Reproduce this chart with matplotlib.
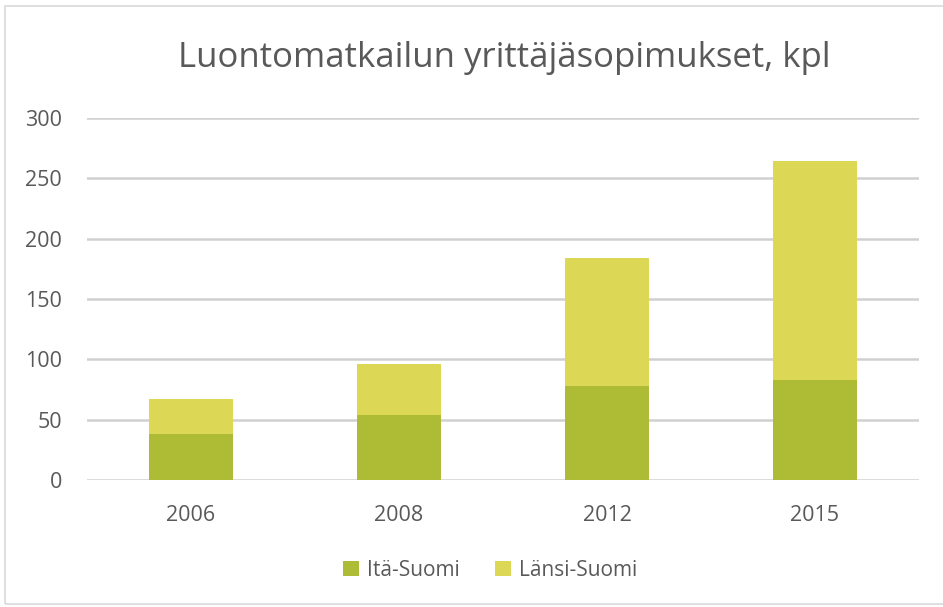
import matplotlib.pyplot as plt
from matplotlib.patches import Rectangle

vuodet = ['2006', '2008', '2012', '2015']
ita = [38, 54, 78, 83]
lansi = [29, 42, 106, 181]

plt.rcParams['font.family'] = ['Open Sans', 'DejaVu Sans']
teksti = '#595959'

fig = plt.figure(figsize=(9.43, 6.07), dpi=100)
ax = fig.add_axes([0.0923, 0.209, 0.8822, 0.597])

x = range(len(vuodet))
ax.bar(x, ita, width=0.4, color='#aebb35', label='Itä-Suomi', zorder=3)
ax.bar(x, lansi, width=0.4, bottom=ita, color='#dcd755', label='Länsi-Suomi', zorder=3)

ax.set_xlim(-0.5, len(vuodet) - 0.5)
ax.set_ylim(0, 300)
ax.set_yticks(range(0, 301, 50))
ax.set_xticks(list(x))
ax.set_xticklabels(vuodet)
ax.yaxis.grid(True, color='#d0d0d0', linewidth=1.8, zorder=0)
for s in ax.spines.values():
    s.set_visible(False)
ax.tick_params(length=0, labelsize=15.5, labelcolor=teksti)
ax.tick_params(axis='y', pad=18)
ax.tick_params(axis='x', pad=18)

fig.text(0.535, 0.905, 'Luontomatkailun yrittäjäsopimukset, kpl', ha='center', va='center',
         fontsize=25, color=teksti)

fig.legend(loc='center', bbox_to_anchor=(0.52, 0.06), ncol=2, frameon=False,
           fontsize=15, labelcolor=teksti, handlelength=0.75, handleheight=0.75,
           handletextpad=0.4, columnspacing=1.7)

# kehys
fig.patches.append(Rectangle((0.005, 0.005), 1.2, 0.985, transform=fig.transFigure,
                             fill=False, edgecolor='#d9d9d9', linewidth=1.2))

fig.savefig('out.png', dpi=100)
